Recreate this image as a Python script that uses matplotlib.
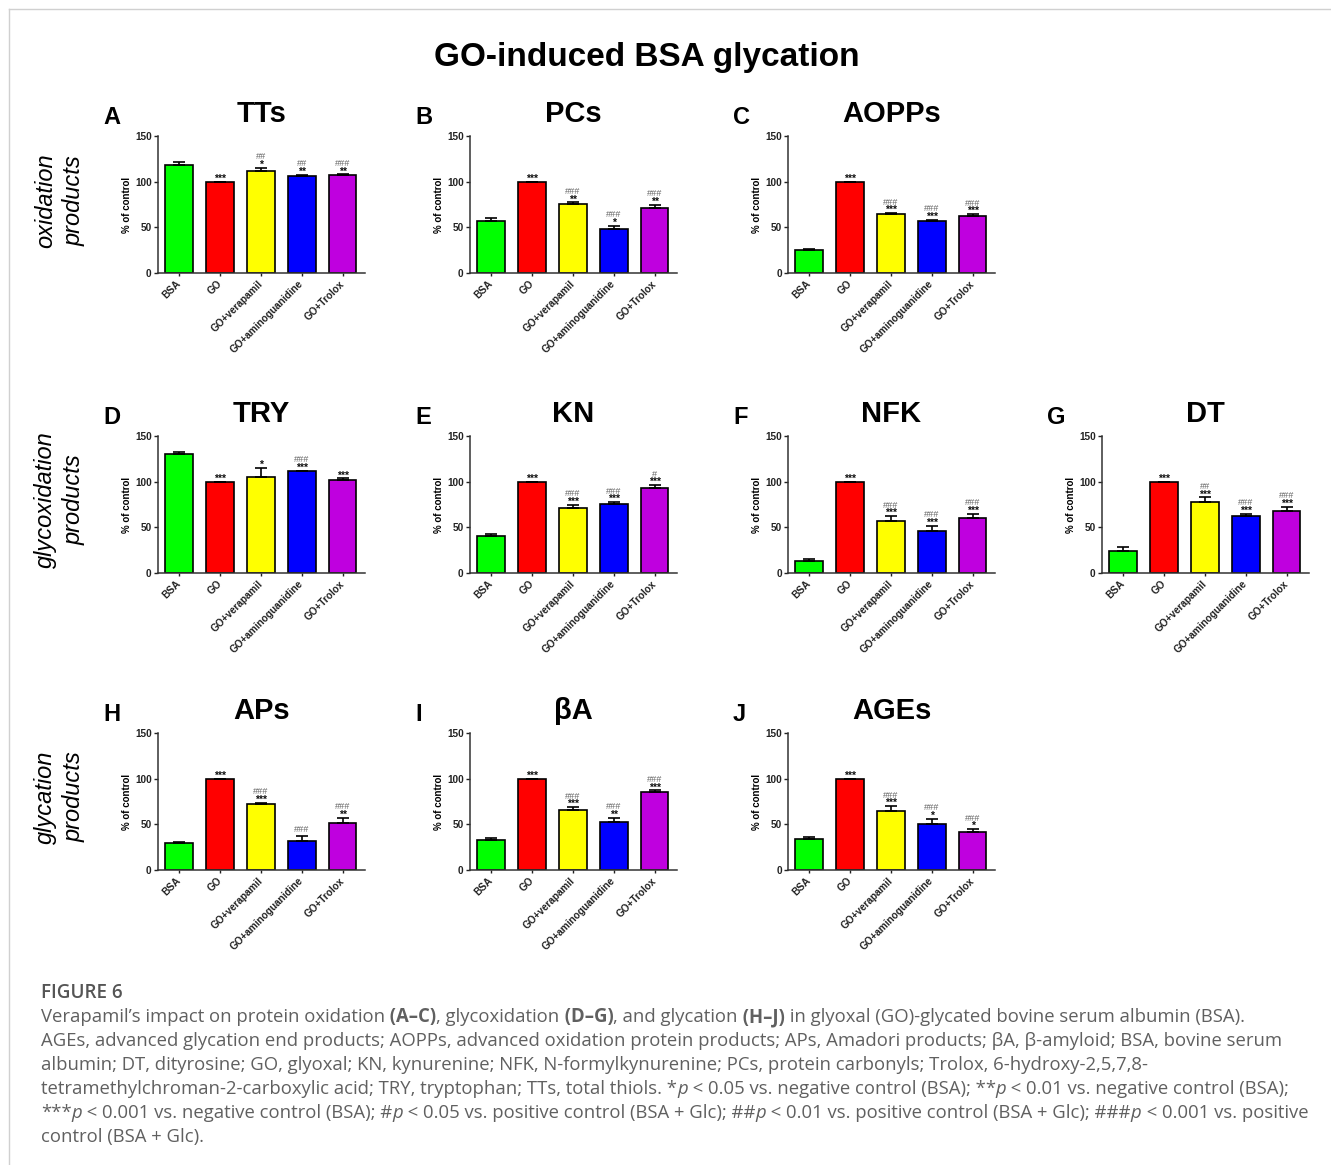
import numpy as np
import matplotlib
matplotlib.use('Agg')
import matplotlib.pyplot as plt
from matplotlib.lines import Line2D

W, H = 1331, 1165
plt.rcParams['font.family'] = ['Liberation Sans', 'DejaVu Sans']

groups = ['BSA', 'GO', 'GO+verapamil', 'GO+aminoguanidine', 'GO+Trolox']
bar_colors = ['#00ff00', '#ff0000', '#ffff00', '#0000ff', '#bf00df']

# values (% of control), upper SEM
tts_mean = [118.5, 100, 112, 106.5, 106.8]
tts_err = [2.5, 0, 3.3, 1.2, 1.2]
tts_stars = ['', '***', '*', '**', '**']
tts_hash = ['', '', '##', '##', '###']

pcs_mean = [56.5, 100, 75.4, 48.2, 71.7]
pcs_err = [3.2, 0, 1.8, 3.5, 2.9]
pcs_stars = ['', '***', '**', '*', '**']
pcs_hash = ['', '', '###', '###', '###']

aopps_mean = [24.8, 100, 64.5, 56.8, 62.6]
aopps_err = [1.4, 0, 1.1, 1.4, 1.8]
aopps_stars = ['', '***', '***', '***', '***']
aopps_hash = ['', '', '###', '###', '###']

try_mean = [130.2, 100, 104.7, 111.2, 101.8]
try_err = [2.5, 0, 9.9, 0.8, 1.8]
try_stars = ['', '***', '*', '***', '***']
try_hash = ['', '', '', '###', '']

kn_mean = [40.5, 100, 71, 75.5, 93]
kn_err = [2, 0, 4, 2, 3]
kn_stars = ['', '***', '***', '***', '***']
kn_hash = ['', '', '###', '###', '#']

nfk_mean = [13.5, 100, 56.6, 46, 60.2]
nfk_err = [1.5, 0, 5.8, 5.5, 4.8]
nfk_stars = ['', '***', '***', '***', '***']
nfk_hash = ['', '', '###', '###', '###']

dt_mean = [24.3, 100, 78.1, 62.5, 67.9]
dt_err = [4.4, 0, 4.7, 2.5, 4.4]
dt_stars = ['', '***', '***', '***', '***']
dt_hash = ['', '', '##', '###', '###']

aps_mean = [29.6, 100, 72.1, 31.5, 52]
aps_err = [0.8, 0, 1.4, 6.2, 5.1]
aps_stars = ['', '***', '***', '', '**']
aps_hash = ['', '', '###', '###', '###']

ba_mean = [32.6, 100, 65.9, 52.3, 85.2]
ba_err = [2.9, 0, 2.9, 5.1, 1.9]
ba_stars = ['', '***', '***', '**', '***']
ba_hash = ['', '', '###', '###', '###']

ages_mean = [33.7, 100, 65.1, 50.1, 42.1]
ages_err = [2.2, 0, 4.8, 6.2, 2.5]
ages_stars = ['', '***', '***', '*', '*']
ages_hash = ['', '', '###', '###', '###']

panels = [
    ('A', 'TTs', tts_mean, tts_err, tts_stars, tts_hash, 0, 0),
    ('B', 'PCs', pcs_mean, pcs_err, pcs_stars, pcs_hash, 1, 0),
    ('C', 'AOPPs', aopps_mean, aopps_err, aopps_stars, aopps_hash, 2, 0),
    ('D', 'TRY', try_mean, try_err, try_stars, try_hash, 0, 1),
    ('E', 'KN', kn_mean, kn_err, kn_stars, kn_hash, 1, 1),
    ('F', 'NFK', nfk_mean, nfk_err, nfk_stars, nfk_hash, 2, 1),
    ('G', 'DT', dt_mean, dt_err, dt_stars, dt_hash, 3, 1),
    ('H', 'APs', aps_mean, aps_err, aps_stars, aps_hash, 0, 2),
    ('I', 'βA', ba_mean, ba_err, ba_stars, ba_hash, 1, 2),
    ('J', 'AGEs', ages_mean, ages_err, ages_stars, ages_hash, 2, 2),
]

row_labels = ['oxidation\nproducts', 'glycoxidation\nproducts', 'glycation\nproducts']
row_label_y = [201, 500, 797]

col_left = [158, 470, 788, 1102]
row_top = [136, 436, 733]
ax_w, ax_h = 207, 137

fig = plt.figure(figsize=(W / 100, H / 100), dpi=100)

for letter, title, mean, err, stars, hashes, c, r in panels:
    left, top = col_left[c], row_top[r]
    ax = fig.add_axes([left / W, 1 - (top + ax_h) / H, ax_w / W, ax_h / H])
    x = np.arange(len(groups))
    ax.bar(x, mean, width=0.68, color=bar_colors, edgecolor='black', linewidth=1.2, zorder=2)
    ax.errorbar(x, mean, yerr=[np.zeros(len(err)), err], fmt='none', ecolor='black',
                elinewidth=1.2, capsize=4, capthick=1.2, zorder=3)
    for i in range(len(groups)):
        top_val = mean[i] + err[i]
        if stars[i]:
            ax.annotate(stars[i], (x[i], top_val), xytext=(0, 3), textcoords='offset pixels',
                        ha='center', va='center', fontsize=7.5, fontweight='bold', color='#111111')
        if hashes[i]:
            dy = 11 if stars[i] else 6
            ax.annotate(hashes[i], (x[i], top_val), xytext=(0, dy), textcoords='offset pixels',
                        ha='center', va='center', fontsize=6.6, color='#666666')
    ax.set_xlim(-0.52, 4.55)
    ax.set_ylim(0, 150)
    ax.set_yticks([0, 50, 100, 150])
    ax.set_xticks(x)
    ax.set_xticklabels(groups, rotation=45, ha='right', va='center', rotation_mode='anchor',
                       fontsize=7.2, fontweight='bold')
    for lab in ax.get_yticklabels():
        lab.set_fontweight('bold')
        lab.set_fontsize(7.2)
    ax.tick_params(axis='y', length=3, width=1, pad=1.5, colors='#222222')
    ax.tick_params(axis='x', length=2.5, width=1, pad=4, colors='#222222')
    ax.set_ylabel('% of control', fontsize=7, fontweight='bold', labelpad=2)
    for s in ['top', 'right']:
        ax.spines[s].set_visible(False)
    for s in ['left', 'bottom']:
        ax.spines[s].set_linewidth(1.1)
        ax.spines[s].set_color('#333333')
    fig.text((left - 55) / W, 1 - (top - 12) / H, letter, fontsize=17, fontweight='bold',
             ha='left', va='baseline')
    fig.text((left + ax_w / 2) / W, 1 - (top - 14) / H, title, fontsize=21, fontweight='bold',
             ha='center', va='baseline')

for lab, yc in zip(row_labels, row_label_y):
    fig.text(60 / W, 1 - yc / H, lab, rotation=90, fontsize=17, style='italic',
             ha='center', va='center', linespacing=1.3)

fig.text(647 / W, 1 - 66 / H, 'GO-induced BSA glycation', fontsize=24, fontweight='bold',
         ha='center', va='baseline')

# frame lines of the figure page
fig.add_artist(Line2D([9 / W, 9 / W], [0, 1 - 9 / H], transform=fig.transFigure,
                      color='#d0d0d0', lw=1))
fig.add_artist(Line2D([9 / W, 1], [1 - 9 / H, 1 - 9 / H], transform=fig.transFigure,
                      color='#d0d0d0', lw=1))

# caption
cap_color = '#606060'
cap_family = ['Open Sans', 'DejaVu Sans']
renderer = fig.canvas.get_renderer()

caption_lines = [
    [('Verapamil’s impact on protein oxidation', ''), (' (A–C)', 'b'), (', glycoxidation', ''),
     (' (D–G)', 'b'), (', and glycation', ''), (' (H–J)', 'b'),
     (' in glyoxal (GO)-glycated bovine serum albumin (BSA).', '')],
    [('AGEs, advanced glycation end products; AOPPs, advanced oxidation protein products; APs, '
      'Amadori products; βA, β-amyloid; BSA, bovine serum', '')],
    [('albumin; DT, dityrosine; GO, glyoxal; KN, kynurenine; NFK, N-formylkynurenine; PCs, '
      'protein carbonyls; Trolox, 6-hydroxy-2,5,7,8-', '')],
    [('tetramethylchroman-2-carboxylic acid; TRY, tryptophan; TTs, total thiols. *', ''), ('p', 'i'),
     (' < 0.05 vs. negative control (BSA); **', ''), ('p', 'i'),
     (' < 0.01 vs. negative control (BSA);', '')],
    [('***', ''), ('p', 'i'), (' < 0.001 vs. negative control (BSA); #', ''), ('p', 'i'),
     (' < 0.05 vs. positive control (BSA + Glc); ##', ''), ('p', 'i'),
     (' < 0.01 vs. positive control (BSA + Glc); ###', ''), ('p', 'i'),
     (' < 0.001 vs. positive', '')],
    [('control (BSA + Glc).', '')],
]


def rich_line(x_px, y_px, parts, size, draw=True):
    xpos = x_px
    for s, style in parts:
        kw = dict(fontsize=size, color=cap_color, family=cap_family,
                  ha='left', va='baseline')
        if style == 'b':
            kw['fontweight'] = 'bold'
        if style == 'i':
            kw['fontstyle'] = 'italic'
        t = fig.text(xpos / W, 1 - y_px / H, s, **kw)
        xpos += t.get_window_extent(renderer).width
        if not draw:
            t.remove()
    return xpos - x_px


# fit the caption size so the first line spans about like the reference
w0 = rich_line(41, 1022, caption_lines[0], 12, draw=False)
cap_size = 12 * 1200 / w0

fig.text(41 / W, 1 - 998 / H, 'FIGURE 6', fontsize=cap_size * 1.02, color='#555555',
         family=cap_family, fontweight='semibold', ha='left', va='baseline')
for k, parts in enumerate(caption_lines):
    rich_line(41, 1022 + 24 * k, parts, cap_size)

fig.savefig('out.png', dpi=100)
